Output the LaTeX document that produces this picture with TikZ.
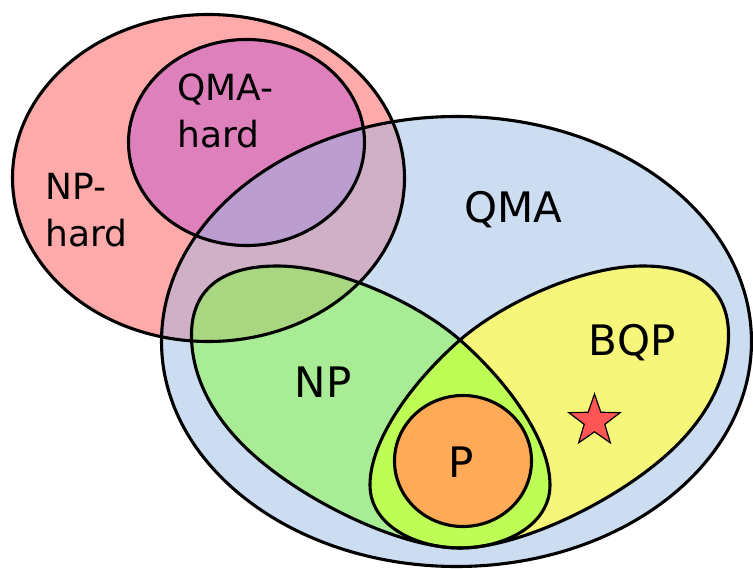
\documentclass[tikz,border=0pt]{standalone}
\usepackage{fontspec}
\setmainfont{DejaVu Sans}
\definecolor{cNPhard}{HTML}{FFAAAA}
\definecolor{cQMAhard}{HTML}{DE80BC}
\definecolor{cQMA}{HTML}{CCDCF1}
\definecolor{cNPhardQMA}{HTML}{CFB0C7}
\definecolor{cQMAhardQMA}{HTML}{BB9DCF}
\definecolor{cNP}{HTML}{A9EC96}
\definecolor{cBQP}{HTML}{F6F77A}
\definecolor{cNPBQP}{HTML}{BEFC56}
\definecolor{cNPhardNP}{HTML}{A9D680}
\definecolor{cP}{HTML}{FFAA57}
\definecolor{cStar}{HTML}{FF5555}
\newcommand{\myNPshape}{(277,266) .. controls (340,266) and (420,305) .. (460,340)
  .. controls (508,382) and (550,440) .. (550,485)
  .. controls (550,525) and (505,548) .. (460,548)
  .. controls (400,548) and (300,500) .. (246,448)
  .. controls (216,419) and (191.5,380) .. (191.5,335)
  .. controls (191.5,290) and (221,266) .. (277,266) -- cycle}
\newcommand{\myNPhardshape}{(208.5,178) ellipse [x radius=196, y radius=163.5]}
\newcommand{\myQMAhardshape}{(246.5,142.5) ellipse [x radius=118, y radius=103]}
\newcommand{\myQMAshape}{(456.5,341.5) ellipse [x radius=295, y radius=225]}
\tikzset{
  outline/.style={draw=black, line width=3.1pt, line join=round},
  mirror/.style={shift={(920,0)}, xscale=-1},
  biglabel/.style={inner sep=0pt, font=\fontsize{42}{50}\selectfont},
  smalllabel/.style={inner sep=0pt, align=left, font=\fontsize{36}{47}\selectfont},
}
\begin{document}
\begin{tikzpicture}[x=1pt, y=-1pt]
\useasboundingbox (0,0) rectangle (753,569);
% base fills
\fill[cQMA] \myQMAshape;
\fill[cNPhard] \myNPhardshape;
\fill[cQMAhard] \myQMAhardshape;
\begin{scope}
  \clip \myQMAshape;
  \fill[cNPhardQMA] \myNPhardshape;
  \fill[cQMAhardQMA] \myQMAhardshape;
\end{scope}
\fill[cNP] \myNPshape;
\fill[cBQP, mirror] \myNPshape;
\begin{scope}
  \clip \myNPshape;
  \fill[cNPBQP, mirror] \myNPshape;
  \fill[cNPhardNP] \myNPhardshape;
\end{scope}
% outlines
\draw[outline] \myQMAshape;
\draw[outline] \myNPhardshape;
\draw[outline] \myQMAhardshape;
\draw[outline] \myNPshape;
\draw[outline, mirror] \myNPshape;
% P
\draw[outline, fill=cP] (463,461) ellipse [x radius=68.5, y radius=65.5];
% star
\draw[fill=cStar, line width=1.2pt, line join=miter]
  ([shift={(594.5,421)}]-90:27) -- ([shift={(594.5,421)}]-54:10.8) --
  ([shift={(594.5,421)}]-18:27) -- ([shift={(594.5,421)}]18:10.8) --
  ([shift={(594.5,421)}]54:27) -- ([shift={(594.5,421)}]90:10.8) --
  ([shift={(594.5,421)}]126:27) -- ([shift={(594.5,421)}]162:10.8) --
  ([shift={(594.5,421)}]198:27) -- ([shift={(594.5,421)}]234:10.8) -- cycle;
% labels
\node[biglabel, anchor=base] (qma) at (513.5,223) {QMA};
\node[biglabel, anchor=base] (bqp) at (632,356) {BQP};
\node[biglabel, anchor=base] (np) at (323,398) {NP};
\node[biglabel, anchor=base] (p) at (461.5,477) {P};
\node[smalllabel, anchor=north west] (nphard) at (45.5,172.8) {NP-\\hard};
\node[smalllabel, anchor=north west] (qmahard) at (177,73.3) {QMA-\\hard};
\end{tikzpicture}
\end{document}
